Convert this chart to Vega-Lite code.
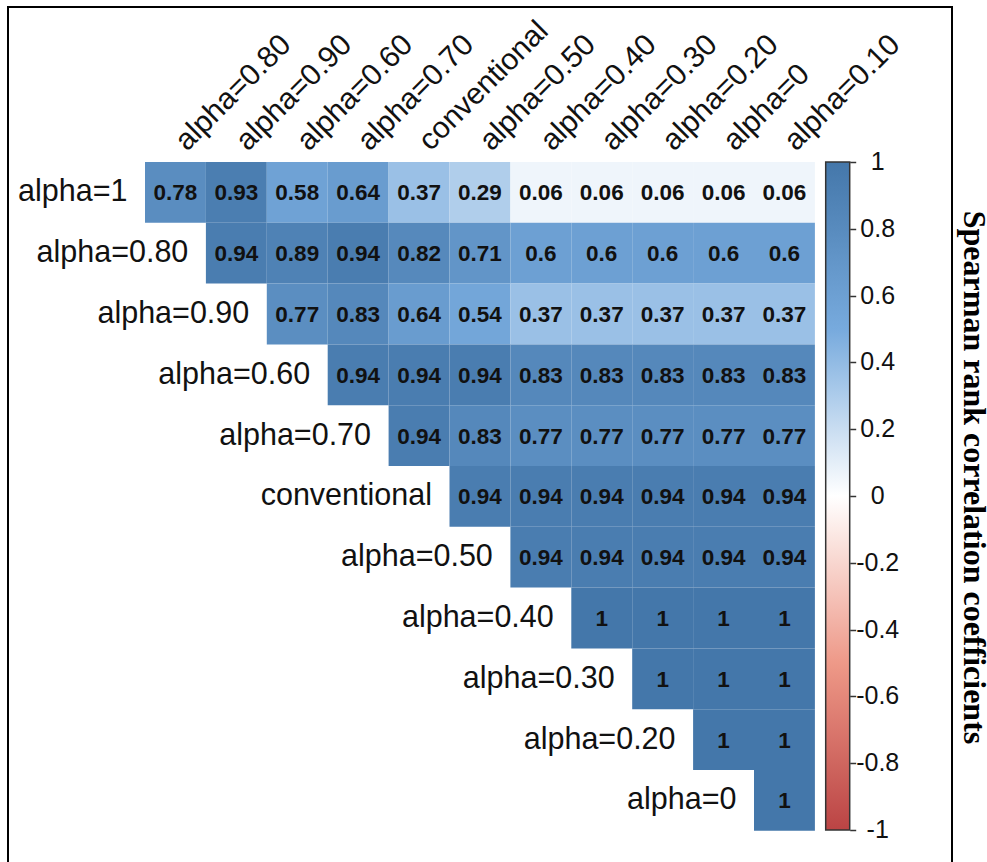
{
  "$schema": "https://vega.github.io/schema/vega-lite/v6.json",
  "autosize": {"type": "none"},
  "padding": {"left": 8, "top": 7, "right": 35, "bottom": -86},
  "width": 944,
  "height": 941,
  "background": "#ffffff",
  "title": {
    "text": "Spearman rank correlation coefficients",
    "orient": "right",
    "anchor": "middle",
    "frame": "group",
    "font": "Liberation Serif",
    "fontSize": 32,
    "fontWeight": "bold",
    "color": "#000000",
    "baseline": "alphabetic",
    "offset": -20
  },
  "datasets": {
    "corr": [
      {"row": "alpha=1", "col": "alpha=0.80", "v": 0.78},
      {"row": "alpha=1", "col": "alpha=0.90", "v": 0.93},
      {"row": "alpha=1", "col": "alpha=0.60", "v": 0.58},
      {"row": "alpha=1", "col": "alpha=0.70", "v": 0.64},
      {"row": "alpha=1", "col": "conventional", "v": 0.37},
      {"row": "alpha=1", "col": "alpha=0.50", "v": 0.29},
      {"row": "alpha=1", "col": "alpha=0.40", "v": 0.06},
      {"row": "alpha=1", "col": "alpha=0.30", "v": 0.06},
      {"row": "alpha=1", "col": "alpha=0.20", "v": 0.06},
      {"row": "alpha=1", "col": "alpha=0", "v": 0.06},
      {"row": "alpha=1", "col": "alpha=0.10", "v": 0.06},
      {"row": "alpha=0.80", "col": "alpha=0.90", "v": 0.94},
      {"row": "alpha=0.80", "col": "alpha=0.60", "v": 0.89},
      {"row": "alpha=0.80", "col": "alpha=0.70", "v": 0.94},
      {"row": "alpha=0.80", "col": "conventional", "v": 0.82},
      {"row": "alpha=0.80", "col": "alpha=0.50", "v": 0.71},
      {"row": "alpha=0.80", "col": "alpha=0.40", "v": 0.6},
      {"row": "alpha=0.80", "col": "alpha=0.30", "v": 0.6},
      {"row": "alpha=0.80", "col": "alpha=0.20", "v": 0.6},
      {"row": "alpha=0.80", "col": "alpha=0", "v": 0.6},
      {"row": "alpha=0.80", "col": "alpha=0.10", "v": 0.6},
      {"row": "alpha=0.90", "col": "alpha=0.60", "v": 0.77},
      {"row": "alpha=0.90", "col": "alpha=0.70", "v": 0.83},
      {"row": "alpha=0.90", "col": "conventional", "v": 0.64},
      {"row": "alpha=0.90", "col": "alpha=0.50", "v": 0.54},
      {"row": "alpha=0.90", "col": "alpha=0.40", "v": 0.37},
      {"row": "alpha=0.90", "col": "alpha=0.30", "v": 0.37},
      {"row": "alpha=0.90", "col": "alpha=0.20", "v": 0.37},
      {"row": "alpha=0.90", "col": "alpha=0", "v": 0.37},
      {"row": "alpha=0.90", "col": "alpha=0.10", "v": 0.37},
      {"row": "alpha=0.60", "col": "alpha=0.70", "v": 0.94},
      {"row": "alpha=0.60", "col": "conventional", "v": 0.94},
      {"row": "alpha=0.60", "col": "alpha=0.50", "v": 0.94},
      {"row": "alpha=0.60", "col": "alpha=0.40", "v": 0.83},
      {"row": "alpha=0.60", "col": "alpha=0.30", "v": 0.83},
      {"row": "alpha=0.60", "col": "alpha=0.20", "v": 0.83},
      {"row": "alpha=0.60", "col": "alpha=0", "v": 0.83},
      {"row": "alpha=0.60", "col": "alpha=0.10", "v": 0.83},
      {"row": "alpha=0.70", "col": "conventional", "v": 0.94},
      {"row": "alpha=0.70", "col": "alpha=0.50", "v": 0.83},
      {"row": "alpha=0.70", "col": "alpha=0.40", "v": 0.77},
      {"row": "alpha=0.70", "col": "alpha=0.30", "v": 0.77},
      {"row": "alpha=0.70", "col": "alpha=0.20", "v": 0.77},
      {"row": "alpha=0.70", "col": "alpha=0", "v": 0.77},
      {"row": "alpha=0.70", "col": "alpha=0.10", "v": 0.77},
      {"row": "conventional", "col": "alpha=0.50", "v": 0.94},
      {"row": "conventional", "col": "alpha=0.40", "v": 0.94},
      {"row": "conventional", "col": "alpha=0.30", "v": 0.94},
      {"row": "conventional", "col": "alpha=0.20", "v": 0.94},
      {"row": "conventional", "col": "alpha=0", "v": 0.94},
      {"row": "conventional", "col": "alpha=0.10", "v": 0.94},
      {"row": "alpha=0.50", "col": "alpha=0.40", "v": 0.94},
      {"row": "alpha=0.50", "col": "alpha=0.30", "v": 0.94},
      {"row": "alpha=0.50", "col": "alpha=0.20", "v": 0.94},
      {"row": "alpha=0.50", "col": "alpha=0", "v": 0.94},
      {"row": "alpha=0.50", "col": "alpha=0.10", "v": 0.94},
      {"row": "alpha=0.40", "col": "alpha=0.30", "v": 1},
      {"row": "alpha=0.40", "col": "alpha=0.20", "v": 1},
      {"row": "alpha=0.40", "col": "alpha=0", "v": 1},
      {"row": "alpha=0.40", "col": "alpha=0.10", "v": 1},
      {"row": "alpha=0.30", "col": "alpha=0.20", "v": 1},
      {"row": "alpha=0.30", "col": "alpha=0", "v": 1},
      {"row": "alpha=0.30", "col": "alpha=0.10", "v": 1},
      {"row": "alpha=0.20", "col": "alpha=0", "v": 1},
      {"row": "alpha=0.20", "col": "alpha=0.10", "v": 1},
      {"row": "alpha=0", "col": "alpha=0.10", "v": 1}
    ],
    "rowlabels": [
      {"row": "alpha=1", "col": "alpha=0.80"},
      {"row": "alpha=0.80", "col": "alpha=0.90"},
      {"row": "alpha=0.90", "col": "alpha=0.60"},
      {"row": "alpha=0.60", "col": "alpha=0.70"},
      {"row": "alpha=0.70", "col": "conventional"},
      {"row": "conventional", "col": "alpha=0.50"},
      {"row": "alpha=0.50", "col": "alpha=0.40"},
      {"row": "alpha=0.40", "col": "alpha=0.30"},
      {"row": "alpha=0.30", "col": "alpha=0.20"},
      {"row": "alpha=0.20", "col": "alpha=0"},
      {"row": "alpha=0", "col": "alpha=0.10"}
    ]
  },
  "resolve": {"scale": {"y": "independent"}, "axis": {"y": "independent"}},
  "layer": [
    {
      "encoding": {
        "x": {
          "field": "col",
          "type": "nominal",
          "axis": null,
          "scale": {
            "domain": ["alpha=0.80", "alpha=0.90", "alpha=0.60", "alpha=0.70", "conventional", "alpha=0.50", "alpha=0.40", "alpha=0.30", "alpha=0.20", "alpha=0", "alpha=0.10"],
            "range": [137, 806.9],
            "paddingInner": 0,
            "paddingOuter": 0,
            "round": false
          }
        },
        "y": {
          "field": "row",
          "type": "nominal",
          "axis": null,
          "scale": {
            "domain": ["alpha=1", "alpha=0.80", "alpha=0.90", "alpha=0.60", "alpha=0.70", "conventional", "alpha=0.50", "alpha=0.40", "alpha=0.30", "alpha=0.20", "alpha=0"],
            "range": [155, 823.8],
            "paddingInner": 0,
            "paddingOuter": 0,
            "round": false
          }
        }
      },
      "layer": [
        {
          "data": {"name": "corr"},
          "mark": {"type": "rect"},
          "encoding": {
            "color": {
              "field": "v",
              "type": "quantitative",
              "scale": {
                "domain": [-1, -0.5, 0, 0.5, 1],
                "range": ["#BB4444", "#EE9988", "#FFFFFF", "#77AADD", "#4477AA"],
                "interpolate": "rgb"
              },
              "legend": {
                "orient": "none",
                "legendX": 817.7,
                "legendY": 155,
                "direction": "vertical",
                "title": null,
                "padding": 0,
                "gradientLength": 668,
                "gradientThickness": 24,
                "gradientStrokeColor": "#333333",
                "gradientStrokeWidth": 1.5,
                "values": [1, 0.8, 0.6, 0.4, 0.2, 0, -0.2, -0.4, -0.6, -0.8, -1],
                "labelExpr": "'' + datum.value",
                "labelOverlap": false,
                "labelFont": "Liberation Sans",
                "labelFontSize": 25,
                "labelColor": "#111111",
                "labelOffset": 28,
                "labelAlign": "center",
                "labelBaseline": "middle",
                "encode": {
                  "labels": {
                    "update": {
                      "align": {"value": "center"},
                      "baseline": {"value": "middle"}
                    }
                  }
                }
              }
            }
          }
        },
        {
          "data": {"name": "corr"},
          "mark": {"type": "text", "font": "Liberation Sans", "fontSize": 22.5, "fontWeight": "bold", "color": "#111111", "baseline": "middle", "dy": 1},
          "encoding": {
            "text": {"field": "v", "type": "nominal"}
          }
        },
        {
          "data": {"name": "corr"},
          "transform": [{"filter": "datum.row === 'alpha=1'"}],
          "mark": {"type": "text", "font": "Liberation Sans", "fontSize": 30, "color": "#111111", "angle": 315, "align": "left", "baseline": "alphabetic", "dx": 36.7, "dy": -20.5},
          "encoding": {
            "text": {"field": "col", "type": "nominal"}
          }
        },
        {
          "data": {"name": "rowlabels"},
          "mark": {"type": "text", "font": "Liberation Sans", "fontSize": 30.5, "color": "#111111", "align": "right", "baseline": "middle", "dx": -48},
          "encoding": {
            "text": {"field": "row", "type": "nominal"}
          }
        }
      ]
    },
    {
      "data": {"name": "corr"},
      "mark": {"type": "rule", "strokeOpacity": 0},
      "encoding": {
        "y": {
          "field": "v",
          "type": "quantitative",
          "scale": {"domain": [-1, 1], "range": [823, 155], "nice": false, "zero": false},
          "axis": {
            "orient": "right",
            "offset": -102.3,
            "values": [-1, -0.8, -0.6, -0.4, -0.2, 0, 0.2, 0.4, 0.6, 0.8, 1],
            "labels": false,
            "domain": false,
            "grid": false,
            "ticks": true,
            "tickSize": 6,
            "tickWidth": 1.5,
            "tickColor": "#333333",
            "title": null
          }
        }
      }
    }
  ],
  "config": {
    "view": {"stroke": "#000000", "strokeWidth": 2}
  }
}
